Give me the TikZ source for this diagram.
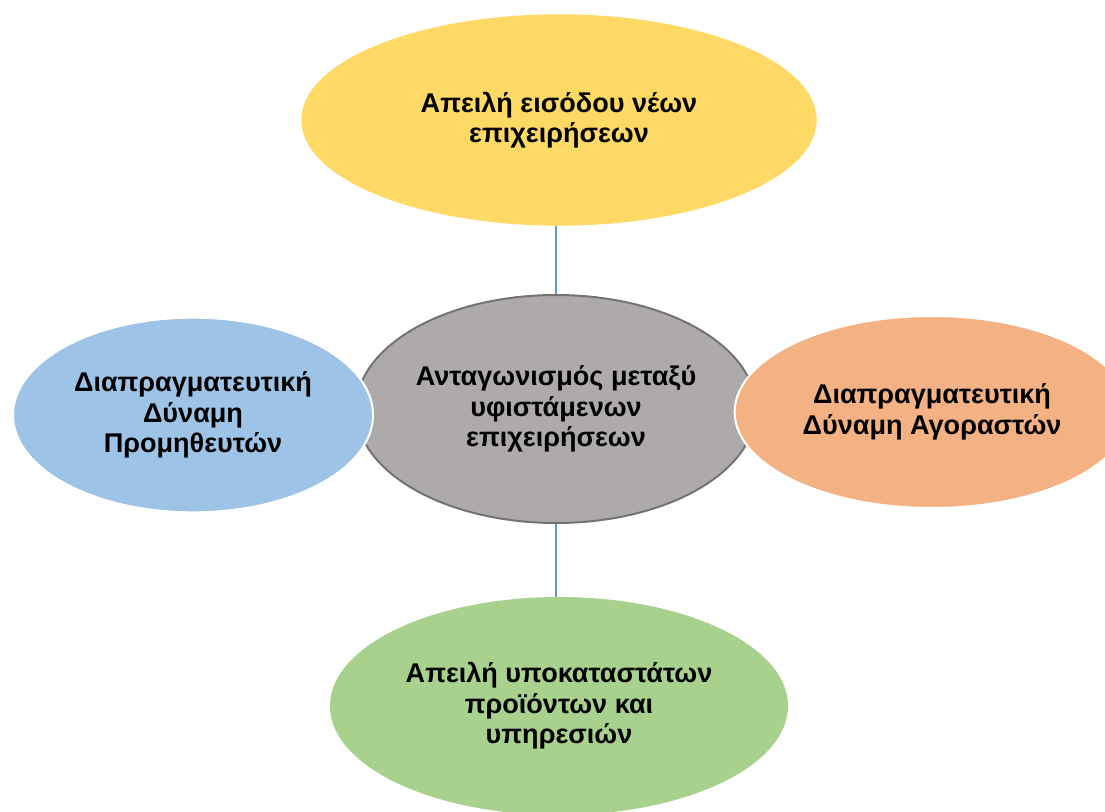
\documentclass[tikz,border=0pt]{standalone}
\usepackage{fontspec}
\setmainfont{Liberation Sans}
\usetikzlibrary{shapes.geometric}
\definecolor{yel}{HTML}{FFD966}
\definecolor{gry}{HTML}{AEAAAA}
\definecolor{gryline}{HTML}{737373}
\definecolor{blu}{HTML}{9DC3E6}
\definecolor{ora}{HTML}{F4B183}
\definecolor{grn}{HTML}{A9D18E}
\definecolor{conn}{HTML}{5B9BD5}
\tikzset{force/.style={ellipse,inner sep=0pt,align=center,draw=white,line width=1.5pt,
  font=\bfseries\fontsize{20.3}{22.8}\selectfont},
  link/.style={draw=conn,line width=1.8pt}}
\begin{document}
\begin{tikzpicture}[x=0.75pt,y=-0.75pt]
\useasboundingbox(0,0)rectangle(1105,812);
\node[force,fill=yel,draw=yel,minimum width=385pt,minimum height=157pt](entry)at(559,120){Απειλή εισόδου νέων\\επιχειρήσεων};
\node[force,fill=grn,draw=grn,minimum width=342pt,minimum height=162pt](subst)at(559,706){Απειλή υποκαταστάτων\\προϊόντων και\\υπηρεσιών};
\node[force,fill=gry,draw=gryline,minimum width=300pt,minimum height=171pt](rivalry)at(556,409){Ανταγωνισμός μεταξύ\\υφιστάμενων\\επιχειρήσεων};
\node[force,fill=blu,minimum width=270pt,minimum height=146pt](suppl)at(193,415){Διαπραγματευτική\\Δύναμη\\Προμηθευτών};
\node[force,fill=ora,minimum width=296pt,minimum height=144pt](buyer)at(932,412){Διαπραγματευτική\\Δύναμη Αγοραστών};
\draw[link](rivalry.north)--(rivalry.north|-entry.south);
\draw[link](rivalry.south)--(rivalry.south|-subst.north);
\end{tikzpicture}
\end{document}
